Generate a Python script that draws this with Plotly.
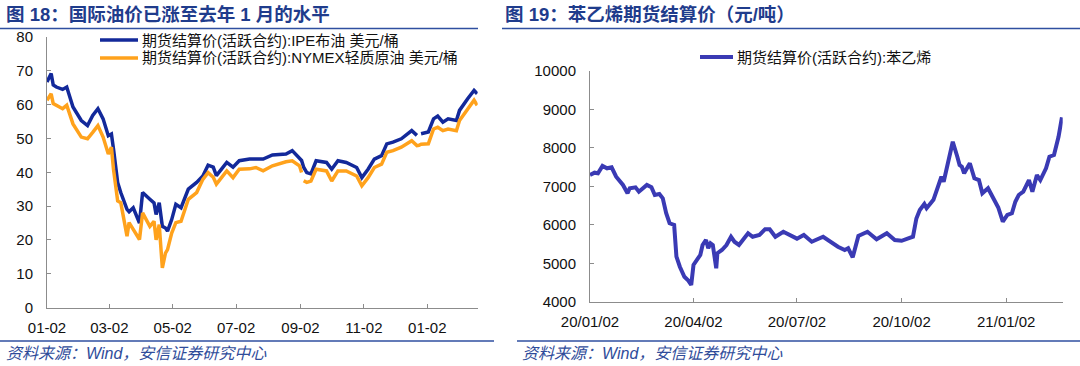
import plotly.graph_objects as go

# ---------------- data: left chart (crude oil futures, USD/bbl) ----------------
oil_dates = [
    "2020-01-02", "2020-01-06", "2020-01-08", "2020-01-11", "2020-01-17", "2020-01-21",
    "2020-01-27", "2020-02-04", "2020-02-10", "2020-02-15", "2020-02-20", "2020-02-25",
    "2020-03-01", "2020-03-04", "2020-03-06", "2020-03-10", "2020-03-13", "2020-03-19",
    "2020-03-21", "2020-03-25", "2020-03-31", "2020-04-03", "2020-04-10", "2020-04-14",
    "2020-04-16", "2020-04-19", "2020-04-22", "2020-04-25", "2020-04-27", "2020-05-01",
    "2020-05-05", "2020-05-10", "2020-05-17", "2020-05-25", "2020-05-31", "2020-06-05",
    "2020-06-10", "2020-06-13", "2020-06-23", "2020-06-29", "2020-07-05", "2020-07-15",
    "2020-07-21", "2020-07-28", "2020-08-06", "2020-08-19", "2020-08-25", "2020-09-01",
    "2020-09-03", "2020-09-04", "2020-09-05", "2020-09-08", "2020-09-12", "2020-09-17",
    "2020-09-27", "2020-10-02", "2020-10-08", "2020-10-16", "2020-10-26", "2020-10-31",
    "2020-11-06", "2020-11-12", "2020-11-19", "2020-11-24", "2020-11-30", "2020-12-08",
    "2020-12-18", "2020-12-23", "2020-12-25", "2020-12-27", "2021-01-03", "2021-01-08",
    "2021-01-12", "2021-01-17", "2021-01-22", "2021-01-30", "2021-02-02", "2021-02-10",
    "2021-02-16", "2021-02-19",
]
brent = [
    66.7, 69.2, 65.8, 65.2, 64.5, 65.2,
    59.3, 55.3, 53.8, 56.8, 58.8, 55.8,
    50.8, 51.3, 46.9, 37.0, 34.0, 29.0,
    28.3, 29.5, 25.0, 34.0, 32.0, 30.9,
    27.5, 31.0, 24.0, 23.5, 22.6, 26.0,
    30.5, 29.5, 35.0, 37.0, 38.9, 42.1,
    41.5, 39.0, 42.9, 41.5, 43.4, 43.9,
    43.9, 43.9, 45.1, 45.4, 46.4, 44.4,
    43.5, 42.5, 41.5, 39.9, 39.5, 43.4,
    42.9, 40.9, 43.4, 42.9, 41.4, 38.4,
    40.9, 43.9, 44.9, 48.4, 48.9, 49.9,
    52.3, 50.9, None, 51.4, 51.9, 55.8,
    56.6, 54.8, 55.8, 55.3, 58.3, 61.8,
    64.2, 63.2,
]
wti = [
    61.3, 63.2, 60.3, 59.8, 58.8, 59.8,
    54.3, 50.4, 49.9, 51.8, 53.8, 50.4,
    45.4, 47.4, 40.9, 31.5, 31.0, 21.1,
    25.1, 23.1, 20.1, 28.0, 24.0, 25.5,
    20.0, 24.5, 11.7, 16.1, 17.1, 22.0,
    25.1, 25.5, 32.0, 34.0, 37.9, 39.9,
    38.5, 36.5, 40.4, 38.4, 40.9, 41.0,
    41.4, 40.4, 41.9, 43.1, 43.4, 41.9,
    39.9, None, 37.5, 37.0, 37.4, 40.9,
    40.4, 37.4, 40.4, 40.4, 38.9, 36.0,
    38.4, 41.4, 42.4, 45.9, 46.4, 47.4,
    49.3, 47.9, 48.0, 48.3, 48.4, 52.8,
    53.3, 52.3, 52.8, 52.3, 55.3, 58.8,
    61.3, 59.8,
]
oil_tick_vals = ["2020-01-02", "2020-03-02", "2020-05-02", "2020-07-02",
                 "2020-09-02", "2020-11-02", "2021-01-02"]
oil_tick_text = ["01-02", "03-02", "05-02", "07-02", "09-02", "11-02", "01-02"]
oil_y_ticks = [0, 10, 20, 30, 40, 50, 60, 70, 80]

# ---------------- data: right chart (styrene futures, CNY/t) ----------------
sty_dates = [
    "2020-01-02", "2020-01-06", "2020-01-09", "2020-01-13", "2020-01-17", "2020-01-21",
    "2020-01-25", "2020-01-31", "2020-02-04", "2020-02-06", "2020-02-11", "2020-02-14",
    "2020-02-21", "2020-02-25", "2020-02-28", "2020-03-03", "2020-03-06", "2020-03-09",
    "2020-03-12", "2020-03-16", "2020-03-18", "2020-03-21", "2020-03-25", "2020-03-28",
    "2020-03-31", "2020-04-02", "2020-04-05", "2020-04-08", "2020-04-10", "2020-04-13",
    "2020-04-15", "2020-04-17", "2020-04-19", "2020-04-22", "2020-04-23", "2020-04-27",
    "2020-05-01", "2020-05-05", "2020-05-08", "2020-05-12", "2020-05-20", "2020-05-24",
    "2020-05-30", "2020-06-04", "2020-06-08", "2020-06-13", "2020-06-20", "2020-06-26",
    "2020-07-02", "2020-07-08", "2020-07-15", "2020-07-25", "2020-07-31", "2020-08-07",
    "2020-08-13", "2020-08-16", "2020-08-20", "2020-08-25", "2020-09-02", "2020-09-10",
    "2020-09-19", "2020-09-26", "2020-10-02", "2020-10-12", "2020-10-15", "2020-10-18",
    "2020-10-22", "2020-10-24", "2020-10-30", "2020-11-01", "2020-11-03", "2020-11-06",
    "2020-11-08", "2020-11-12", "2020-11-16", "2020-11-20", "2020-11-22", "2020-11-24",
    "2020-11-26", "2020-12-01", "2020-12-05", "2020-12-09", "2020-12-12", "2020-12-17",
    "2020-12-21", "2020-12-26", "2020-12-30", "2021-01-03", "2021-01-07", "2021-01-10",
    "2021-01-13", "2021-01-17", "2021-01-22", "2021-01-25", "2021-01-29", "2021-02-01",
    "2021-02-06", "2021-02-09", "2021-02-13", "2021-02-17", "2021-02-20",
]
styrene = [
    7295, 7355, 7340, 7530, 7470, 7495,
    7250, 7035, 6820, 6950, 6975, 6860,
    7035, 6975, 6775, 6800, 6690, 6300,
    6040, 5995, 5170, 4910, 4650, 4565,
    4435, 4955, 5085, 5215, 5475, 5605,
    5390, 5520, 5475, 4870, 5260, 5345,
    5475, 5690, 5560, 5475, 5780, 5690,
    5735, 5885, 5885, 5690, 5820, 5735,
    5640, 5735, 5560, 5690, 5560, 5430,
    5345, 5390, 5155, 5710, 5820, 5625,
    5780, 5605, 5585, 5690, 6165, 6385,
    6540, 6430, 6650, 6820, 6990, 7250,
    7120, 7600, 8160, 7770, 7555, 7510,
    7340, 7600, 7210, 7165, 6820, 6950,
    6730, 6450, 6080, 6255, 6300, 6600,
    6775, 6860, 7165, 6860, 7295, 7165,
    7470, 7770, 7815, 8290, 8795,
]
sty_tick_vals = ["2020-01-02", "2020-04-02", "2020-07-02", "2020-10-02", "2021-01-02"]
sty_tick_text = ["20/01/02", "20/04/02", "20/07/02", "20/10/02", "21/01/02"]
sty_y_ticks = [4000, 5000, 6000, 7000, 8000, 9000, 10000]
sty_y_text = ["4000", "5000", "6000", "7000", "8000", "9000", "10000"]

# ---------------- text ----------------
title_left = "图 18：国际油价已涨至去年 1 月的水平"
title_right = "图 19：苯乙烯期货结算价（元/吨）"
source_text = "资料来源：Wind，安信证券研究中心"
name_brent = "期货结算价(活跃合约):IPE布油 美元/桶"
name_wti = "期货结算价(活跃合约):NYMEX轻质原油 美元/桶"
name_sty = "期货结算价(活跃合约):苯乙烯"

# ---------------- layout helpers ----------------
W, H = 1080, 366
def fx(p):
    return p / W
def fy(p):
    return 1 - p / H

FONT = "Liberation Sans, Arial, Noto Sans CJK SC, sans-serif"
TITLE_COLOR = "#1F3C8C"
RULE_COLOR = "#2F4FA0"
AXIS_COLOR = "#8C8C8C"
C_BRENT = "#13299A"
C_WTI = "#FFA21C"
C_STY = "#3A3AB4"

fig = go.Figure()
fig.add_trace(go.Scatter(x=oil_dates, y=brent, mode="lines", name=name_brent,
                         line=dict(color=C_BRENT, width=3.5), connectgaps=False,
                         xaxis="x", yaxis="y", showlegend=False))
fig.add_trace(go.Scatter(x=oil_dates, y=wti, mode="lines", name=name_wti,
                         line=dict(color=C_WTI, width=3.5), connectgaps=False,
                         xaxis="x", yaxis="y", showlegend=False))
fig.add_trace(go.Scatter(x=sty_dates, y=styrene, mode="lines", name=name_sty,
                         line=dict(color=C_STY, width=4),
                         xaxis="x2", yaxis="y2", showlegend=False))

axis_common = dict(showline=True, linecolor=AXIS_COLOR, linewidth=1, ticks="inside",
                   ticklen=4, tickcolor=AXIS_COLOR, showgrid=False, zeroline=False,
                   tickfont=dict(family=FONT, size=15, color="#111111"),
                   fixedrange=True, automargin=False)

fig.update_layout(
    template="none",
    width=W, height=H, margin=dict(l=0, r=0, t=0, b=0, pad=0, autoexpand=False),
    paper_bgcolor="white", plot_bgcolor="white",
    font=dict(family=FONT, size=15, color="#111111"),
    xaxis=dict(axis_common, domain=[fx(47), fx(477.7)], anchor="y", type="date",
               range=["2020-01-02", "2021-02-19 12:00"], ticklabelstandoff=6,
               tickvals=oil_tick_vals, ticktext=oil_tick_text),
    yaxis=dict(axis_common, domain=[fy(307.5), fy(37)], anchor="x", range=[0, 80],
               ticklabelstandoff=10, tickvals=oil_y_ticks),
    xaxis2=dict(axis_common, domain=[fx(590), fx(1062.7)], anchor="y2", type="date",
                range=["2020-01-02", "2021-02-20 16:00"], ticklabelstandoff=6,
                tickvals=sty_tick_vals, ticktext=sty_tick_text),
    yaxis2=dict(axis_common, domain=[fy(301.7), fy(71)], anchor="x2", range=[4000, 10000],
                ticklabelstandoff=10, tickvals=sty_y_ticks, ticktext=sty_y_text),
    showlegend=False,
)

# legends (sample line + real text)
legend_items = [
    (100, 138, 40, C_BRENT, 3.5, name_brent),
    (100, 138, 58, C_WTI, 3.5, name_wti),
    (700, 733, 57, C_STY, 4, name_sty),
]
for (a, b, yy, col, lw, txt) in legend_items:
    fig.add_shape(type="line", xref="paper", yref="paper", x0=fx(a), x1=fx(b),
                  y0=fy(yy), y1=fy(yy), line=dict(color=col, width=lw))
    fig.add_annotation(x=fx(b + 2), y=fy(yy), xref="paper", yref="paper", text=txt,
                       showarrow=False, xanchor="left", yanchor="middle",
                       font=dict(family=FONT, size=15, color="#111111"))

# titles
for x0, txt in [(4, title_left), (503, title_right)]:
    fig.add_annotation(x=fx(x0), y=fy(14), xref="paper", yref="paper", text=txt,
                       showarrow=False, xanchor="left", yanchor="middle",
                       font=dict(family=FONT, size=18.5, color=TITLE_COLOR, weight="bold"))
# source notes
for x0 in (4, 520):
    fig.add_annotation(x=fx(x0), y=fy(353), xref="paper", yref="paper", text=source_text,
                       showarrow=False, xanchor="left", yanchor="middle",
                       font=dict(family=FONT, size=16, color="#2F4C9A", style="italic"))
# rules under titles and above sources
for (a, b, yy) in [(0, 478, 28.5), (502, 1080, 28.5), (0, 494, 341), (517, 1080, 341)]:
    fig.add_shape(type="line", xref="paper", yref="paper", x0=fx(a), x1=fx(b),
                  y0=fy(yy), y1=fy(yy), line=dict(color=RULE_COLOR, width=1.5))

fig.write_html("out.html", config={"displayModeBar": False},
               post_script="document.body.style.margin='0';document.body.style.overflow='hidden';")
